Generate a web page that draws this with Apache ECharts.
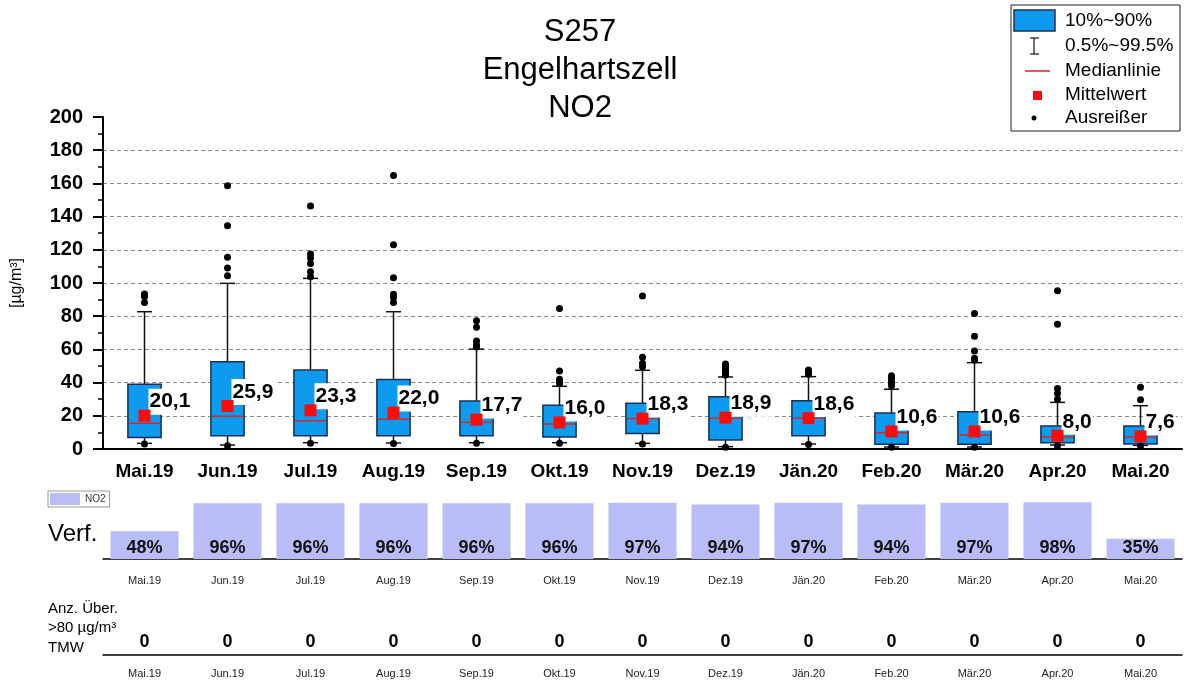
<!DOCTYPE html>
<html>
<head>
<meta charset="utf-8">
<title>S257 Engelhartszell NO2</title>
<script src="https://cdn.jsdelivr.net/npm/echarts@6.0.0/dist/echarts.min.js"></script>
<style>
  html, body { margin: 0; padding: 0; background: #fff; }
  #chart { width: 1184px; height: 684px; }
</style>
</head>
<body>
<div id="chart"></div>
<script>
// Monthly NO2 statistics, station S257 Engelhartszell
const categories = ['Mai.19', 'Jun.19', 'Jul.19', 'Aug.19', 'Sep.19', 'Okt.19', 'Nov.19',
  'Dez.19', 'Jän.20', 'Feb.20', 'Mär.20', 'Apr.20', 'Mai.20'];

// percentiles in µg/m³
const whiskerLow  = [3.4, 2.4, 3.8, 3.6, 3.8, 3.8, 3.4, 1.4, 3.0, 1.2, 1.2, 2.4, 2.2];   // 0.5 %
const q10         = [7.0, 8.0, 8.0, 8.0, 8.0, 7.2, 9.4, 5.4, 8.0, 2.8, 2.8, 3.8, 3.0];   // 10 %
const medians     = [15.5, 19.7, 17.0, 17.9, 16.1, 15.0, 18.3, 18.5, 18.5, 9.8, 8.4, 7.2, 7.2];
const q90         = [39.0, 52.6, 47.6, 41.8, 28.9, 26.3, 27.5, 31.5, 29.1, 21.7, 22.5, 13.9, 13.9]; // 90 %
const whiskerHigh = [82.7, 99.8, 102.8, 82.7, 60.2, 37.8, 47.4, 43.4, 43.6, 36.0, 52.0, 28.1, 26.1]; // 99.5 %
const means       = [20.1, 25.9, 23.3, 22.0, 17.7, 16.0, 18.3, 18.9, 18.6, 10.6, 10.6, 8.0, 7.6];

// outliers as [month index, value]
const outliers = [
  [0, 93.4], [0, 91.8], [0, 88.3], [0, 3.0],
  [1, 158.6], [1, 134.5], [1, 115.5], [1, 109.0], [1, 104.4], [1, 2.0],
  [2, 146.4], [2, 117.5], [2, 115.0], [2, 111.8], [2, 106.8], [2, 103.8], [2, 3.5],
  [3, 164.7], [3, 123.0], [3, 103.2], [3, 93.2], [3, 91.2], [3, 88.2], [3, 3.3],
  [4, 77.3], [4, 73.3], [4, 65.0], [4, 62.6], [4, 61.4], [4, 3.5],
  [5, 84.7], [5, 47.0], [5, 42.0], [5, 40.6], [5, 39.4], [5, 3.5],
  [6, 92.2], [6, 55.2], [6, 51.6], [6, 49.6], [6, 3.0],
  [7, 51.2], [7, 49.6], [7, 48.2], [7, 47.0], [7, 45.8], [7, 44.6], [7, 1.0],
  [8, 47.6], [8, 46.4], [8, 45.6], [8, 45.0], [8, 2.7],
  [9, 44.2], [9, 42.6], [9, 41.0], [9, 39.6], [9, 38.1], [9, 1.0],
  [10, 81.7], [10, 67.9], [10, 59.0], [10, 54.6], [10, 53.6], [10, 1.0],
  [11, 95.4], [11, 75.1], [11, 36.5], [11, 33.5], [11, 29.9], [11, 2.0],
  [12, 37.2], [12, 29.7], [12, 1.8]
];

// data availability (%) and number of daily means above 80 µg/m³
const availability = [48, 96, 96, 96, 96, 96, 97, 94, 97, 94, 97, 98, 35];
const exceedances  = [0, 0, 0, 0, 0, 0, 0, 0, 0, 0, 0, 0, 0];

const FONT = '"Liberation Sans", Arial, sans-serif';
const BOX_BLUE = '#0c9bef';
const BOX_EDGE = '#1b2f55';
const RED = '#ff0a0a';
const BAR_LILAC = '#b8bcf7';

const boxRows = categories.map((c, i) =>
  [i, whiskerLow[i], q10[i], medians[i], q90[i], whiskerHigh[i]]);

function renderBox(params, api) {
  const i = api.value(0);
  const xc = api.coord([i, 0])[0];
  const y = k => api.coord([i, api.value(k)])[1];
  const yLo = y(1), yQ1 = y(2), yMed = y(3), yQ3 = y(4), yHi = y(5);
  const bw = api.size([1, 0])[0] * 0.4;
  const cw = 15;
  const whisk = { stroke: '#111', lineWidth: 1.5 };
  const line = (x1, y1, x2, y2, style) => ({ type: 'line', shape: { x1, y1, x2, y2 }, style });
  return {
    type: 'group',
    children: [
      line(xc, yQ3, xc, yHi, whisk),
      line(xc, yQ1, xc, yLo, whisk),
      line(xc - cw / 2, yHi, xc + cw / 2, yHi, whisk),
      line(xc - cw / 2, yLo, xc + cw / 2, yLo, whisk),
      { type: 'rect', shape: { x: xc - bw / 2, y: yQ3, width: bw, height: yQ1 - yQ3 },
        style: { fill: BOX_BLUE, stroke: BOX_EDGE, lineWidth: 1.5 } },
      line(xc - bw / 2 + 1, yMed, xc + bw / 2 - 1, yMed, { stroke: '#d8262a', lineWidth: 1.5 })
    ]
  };
}

const plainAxis = (gridIndex, opts) => Object.assign({
  type: 'category', gridIndex, data: categories, boundaryGap: true
}, opts);

const smallCatAxis = (gridIndex, margin) => plainAxis(gridIndex, {
  axisLine: { lineStyle: { color: '#000', width: 1.5 } },
  axisTick: { alignWithLabel: true, length: 8, lineStyle: { color: '#000', width: 1.5 } },
  axisLabel: { fontFamily: FONT, fontSize: 11, color: '#222', margin }
});

const boundaryTickAxis = gridIndex => plainAxis(gridIndex, {
  axisLine: { show: false },
  axisTick: { length: 4, lineStyle: { color: '#000', width: 1.2 } },
  axisLabel: { show: false }
});

const textEl = (x, y, text, style) => ({
  type: 'text', x, y, silent: true,
  style: Object.assign({ text, fontFamily: FONT, fill: '#000' }, style)
});

const legendX = 1065;
const legendFont = { fontSize: 19, verticalAlign: 'middle' };

const option = {
  backgroundColor: '#fff',
  animation: false,
  grid: [
    { left: 103, right: 2, top: 117, bottom: 235 },
    { left: 103, right: 2, top: 501, bottom: 125 },
    { left: 103, right: 2, top: 620, bottom: 29 }
  ],
  legend: {
    data: ['NO2'], left: 48, top: 491, icon: 'rect', selectedMode: false,
    itemWidth: 30, itemHeight: 12, padding: [2, 4, 2, 2],
    borderColor: '#999', borderWidth: 1,
    textStyle: { fontFamily: FONT, fontSize: 10, color: '#333' }
  },
  xAxis: [
    plainAxis(0, {
      axisLine: { lineStyle: { color: '#000', width: 2 } },
      axisTick: { alignWithLabel: true, length: 10, lineStyle: { color: '#000', width: 2 } },
      axisLabel: { fontFamily: FONT, fontSize: 19, fontWeight: 'bold', color: '#000', margin: 13 }
    }),
    smallCatAxis(1, 16),
    boundaryTickAxis(1),
    smallCatAxis(2, 13),
    boundaryTickAxis(2)
  ],
  yAxis: [
    {
      type: 'value', gridIndex: 0, min: 0, max: 200, interval: 20,
      name: '[µg/m³]', nameLocation: 'middle', nameGap: 78,
      nameTextStyle: { fontFamily: FONT, fontSize: 16, color: '#000' },
      axisLine: { show: true, lineStyle: { color: '#000', width: 2 } },
      axisTick: { show: true, length: 10, lineStyle: { color: '#000', width: 2 } },
      minorTick: { show: true, splitNumber: 2, length: 5, lineStyle: { color: '#000', width: 1.5 } },
      axisLabel: { fontFamily: FONT, fontSize: 20, fontWeight: 'bold', color: '#000', margin: 20 },
      splitLine: { show: true, showMinLine: false, showMaxLine: false,
        lineStyle: { color: '#8a8a8a', width: 1, type: [4, 3] } }
    },
    { type: 'value', gridIndex: 1, min: 0, max: 100, show: false },
    { type: 'value', gridIndex: 2, min: 0, max: 1, show: false }
  ],
  series: [
    {
      type: 'custom', name: 'Perzentile', xAxisIndex: 0, yAxisIndex: 0, z: 2,
      renderItem: renderBox, data: boxRows, encode: { x: 0, y: [1, 2, 3, 4, 5] }, silent: true
    },
    {
      type: 'scatter', name: 'Mittelwert-Beschriftung', xAxisIndex: 0, yAxisIndex: 0, z: 3,
      data: means, symbol: 'rect', symbolSize: 12,
      itemStyle: { color: 'rgba(0,0,0,0)', opacity: 1 }, silent: true,
      label: {
        show: true, position: 'right', distance: 0, offset: [-2, -14],
        formatter: p => p.value.toFixed(1).replace('.', ','),
        fontFamily: FONT, fontSize: 21, fontWeight: 'bold', color: '#000', opacity: 1,
        backgroundColor: '#ffffff', padding: [3, 1, 2, 1]
      }
    },
    {
      type: 'scatter', name: 'Mittelwert', xAxisIndex: 0, yAxisIndex: 0, z: 4,
      data: means, symbol: 'rect', symbolSize: 12, itemStyle: { color: RED, opacity: 1 }, silent: true
    },
    {
      type: 'scatter', name: 'Ausreißer', xAxisIndex: 0, yAxisIndex: 0, z: 4,
      data: outliers, symbol: 'circle', symbolSize: 7, itemStyle: { color: '#000', opacity: 1 }, silent: true
    },
    {
      type: 'bar', name: 'NO2', xAxisIndex: 1, yAxisIndex: 1, data: availability,
      barCategoryGap: '18%', itemStyle: { color: BAR_LILAC }, silent: true,
      label: {
        show: true, position: 'insideBottom', distance: 2, formatter: '{c}%',
        fontFamily: FONT, fontSize: 18, fontWeight: 'bold', color: '#111'
      }
    },
    {
      type: 'scatter', name: 'Anz. Über.', xAxisIndex: 3, yAxisIndex: 2, data: exceedances,
      symbolSize: 1, itemStyle: { color: 'rgba(0,0,0,0)', opacity: 1 }, silent: true,
      label: {
        show: true, position: 'top', distance: 3, formatter: '{c}',
        fontFamily: FONT, fontSize: 18, fontWeight: 'bold', color: '#000'
      }
    }
  ],
  graphic: [
    textEl(580, 13.5, 'S257\nEngelhartszell\nNO2',
      { fontSize: 31, lineHeight: 38, align: 'center', verticalAlign: 'top' }),
    textEl(48, 534, 'Verf.', { fontSize: 24, verticalAlign: 'middle' }),
    textEl(48, 599, 'Anz. Über.\n>80 µg/m³\nTMW', { fontSize: 15, lineHeight: 19.5, verticalAlign: 'top' }),
    // legend of the box plot
    { type: 'rect', silent: true, shape: { x: 1011, y: 5, width: 169, height: 126 },
      style: { fill: '#fff', stroke: '#222', lineWidth: 1 } },
    { type: 'rect', silent: true, shape: { x: 1014, y: 10, width: 41, height: 21 },
      style: { fill: BOX_BLUE, stroke: BOX_EDGE, lineWidth: 1.5 } },
    textEl(legendX, 21, '10%~90%', legendFont),
    { type: 'line', silent: true, shape: { x1: 1034, y1: 38, x2: 1034, y2: 54 }, style: { stroke: '#111', lineWidth: 1.2 } },
    { type: 'line', silent: true, shape: { x1: 1030, y1: 38, x2: 1039, y2: 38 }, style: { stroke: '#111', lineWidth: 1.2 } },
    { type: 'line', silent: true, shape: { x1: 1030, y1: 54, x2: 1039, y2: 54 }, style: { stroke: '#111', lineWidth: 1.2 } },
    textEl(legendX, 46, '0.5%~99.5%', legendFont),
    { type: 'line', silent: true, shape: { x1: 1025, y1: 71, x2: 1050, y2: 71 }, style: { stroke: '#d8262a', lineWidth: 1.5 } },
    textEl(legendX, 71, 'Medianlinie', legendFont),
    { type: 'rect', silent: true, shape: { x: 1033, y: 91, width: 9, height: 9 }, style: { fill: RED } },
    textEl(legendX, 95, 'Mittelwert', legendFont),
    { type: 'circle', silent: true, shape: { cx: 1034, cy: 118, r: 2.5 }, style: { fill: '#000' } },
    textEl(legendX, 118, 'Ausreißer', legendFont)
  ]
};

const chart = echarts.init(document.getElementById('chart'), null, { renderer: 'canvas' });
chart.setOption(option);
</script>
</body>
</html>
